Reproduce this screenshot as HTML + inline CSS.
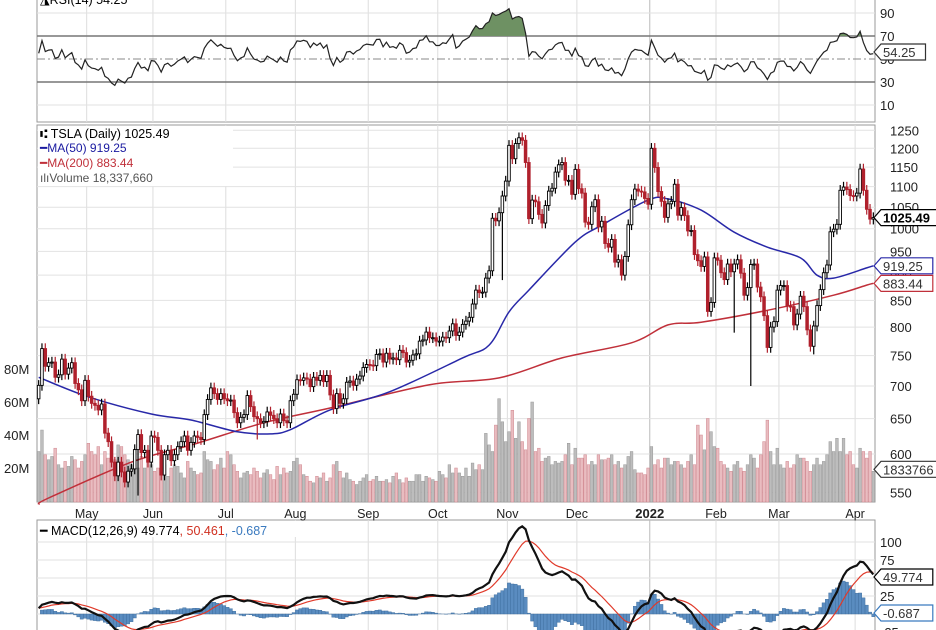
<!DOCTYPE html>
<html><head><meta charset="utf-8"><style>
html,body{margin:0;padding:0;background:#fff;}
svg{display:block;font-family:"Liberation Sans",sans-serif;}
</style></head><body>
<svg id="chart" width="936" height="630" viewBox="0 0 936 630" xmlns="http://www.w3.org/2000/svg">
<g id="grid"></g>
<g id="rsi"></g>
<g id="vol"></g>
<g id="ma"></g>
<g id="candles"></g>
<g id="macd"></g>
<g id="labels"></g>
<g font-size="12.5">
<rect x="38" y="126" width="195" height="60" fill="#fff"/>
<text x="40" y="138" fill="#000">⑆ TSLA (Daily) 1025.49</text>
<text x="40" y="152" fill="#1a1aa0" font-size="12">━MA(50) 919.25</text>
<text x="40" y="167" fill="#c0303a" font-size="12">━MA(200) 883.44</text>
<text x="40" y="182" fill="#555" font-size="12">ılıVolume 18,337,660</text>
</g>
<text x="40" y="4" font-size="12.5" fill="#000">◮RSI(14) 54.25</text>
<g font-size="12.5">
<rect x="38" y="521" width="320" height="16" fill="#fff"/>
<text x="40" y="535"><tspan fill="#000">━ MACD(12,26,9) 49.774</tspan><tspan fill="#d03020">, 50.461</tspan><tspan fill="#3a7abf">, -0.687</tspan></text>
</g>
</svg>
<script>
const closes=[701,762,732,738,739,714,718,744,719,729,738,704,694,677,709,
684,673,670,663,672,629,617,589,571,589,576,563,577,580,606,627,602,605,589,625,
623,605,572,599,605,591,599,610,617,625,605,616,625,623,620,656,679,697,688,679,688,680,
677,678,659,644,652,656,685,668,653,650,644,646,660,655,650,644,657,647,644,677,687,
710,709,713,711,699,714,709,717,707,717,686,665,688,673,680,706,708,701,711,716,730,735,
734,733,752,753,739,754,744,746,743,759,755,739,742,751,753,775,777,791,781,781,775,
775,782,781,793,806,785,791,805,811,818,843,870,865,866,894,909,1024,1018,1037,1077,1114,
1208,1172,1213,1229,1222,1162,1023,1067,1063,1033,1013,1054,1089,1096,1137,1156,1162,1116,1116,1081,1144,
1095,1084,1015,1010,1051,1068,1004,1017,967,959,976,927,932,900,939,1009,1068,1094,1089,1087,1071,1057,
1200,1149,1088,1064,1026,1058,1064,1106,1031,1049,1030,995,996,943,930,918,938,829,846,936,
931,905,891,923,907,923,932,904,860,875,922,923,876,857,821,764,800,810,870,
879,879,839,838,804,824,858,838,795,766,802,840,871,905,921,993,999,1010,1091,1099,1093,1078,1077,
1084,1145,1091,1045,1022,1025.49];
const volumes=[30,43,28,25,27,32,22,20,24,21,27,25,20,24,28,
35,30,28,33,22,30,26,36,25,34,33,28,25,22,24,20,27,20,25,22,
18,20,26,22,15,20,22,21,17,14,24,20,18,16,17,30,25,24,19,22,26,20,
30,28,22,18,14,17,18,16,20,18,14,17,19,16,13,21,16,20,17,18,24,
26,22,16,15,12,11,15,14,17,12,14,22,24,18,14,17,13,12,10,12,14,16,
12,13,15,12,12,13,11,15,17,13,11,14,12,12,16,16,12,15,14,13,12,
18,16,14,22,17,20,17,15,20,15,23,19,22,19,41,34,30,46,62,48,36,
42,55,38,48,36,31,50,60,30,32,24,26,27,22,24,23,24,28,35,22,32,
26,26,28,22,24,22,28,25,25,26,28,22,24,20,22,27,30,19,17,17,16,20,
33,22,25,20,26,26,22,24,24,22,20,24,28,22,46,40,31,50,42,33,
32,24,22,20,18,22,24,20,18,22,28,26,20,28,36,49,30,22,32,
22,20,24,20,22,28,26,26,24,18,22,26,22,24,28,36,30,38,30,38,28,30,22,
20,32,30,26,30,18];
const lowDays=[30,66,140,175,210,215,234];
const lowVals=[546,620,890,945,790,700,752];
const ma50Days=[0,15,34,46,60,70,76,88,106,128,136,142,148,162,170,184,190,200,210,220,230,235,240,250,252];
const ma50Vals=[714,683,657,648,631,628,634,663,691,746,768,828,870,970,1008,1067,1070,1043,992,959,936,900,894,915,919.25];
const ma200Days=[0,3,28,48,68,88,118,139,158,179,190,200,220,240,250,252];
const ma200Vals=[535,543,589,615,644,666,702,713,746,772,804,809,831,860,880,883.44];
const priceTicks=[550,600,650,700,750,800,850,900,950,1000,1050,1100,1150,1200,1250];
const rsiTicks=[10,30,50,70,90];
const volTicks=[20,40,60,80];
const macdTicks=[-25,0,25,50,75,100];
const monthNames=["May","Jun","Jul","Aug","Sep","Oct","Nov","Dec","2022","Feb","Mar","Apr"];
const monthStarts=[15,35,57,78,100,121,142,163,185,205,224,247];

const NS="http://www.w3.org/2000/svg";
const X0=37,X1=875,N=closes.length,DX=(X1-X0)/N;
const xAt=i=>X0+(i+0.5)*DX;
const yP=p=>386-441*Math.log(p/700);
const yV=v=>501-v*33/20;
const yR=v=>59-(v-50)*23/20;
const yM=v=>614-v*0.72;
function mk(parent,tag,attrs){const e=document.createElementNS(NS,tag);for(const k in attrs)e.setAttribute(k,attrs[k]);document.getElementById(parent).appendChild(e);return e;}

let e;
e=mk('grid','rect',{x:X0,y:-2,width:X1-X0,height:124,fill:'#fff',stroke:'#999'});


e=mk('grid','rect',{x:X0,y:125,width:X1-X0,height:377,fill:'#fff',stroke:'#999'});


e=mk('grid','rect',{x:X0,y:520,width:X1-X0,height:120,fill:'#fff',stroke:'#999'});


monthStarts.forEach((m,i)=>{
  const x=X0+m*DX;
  [[-2,122],[125,502],[520,630]].forEach(r=>{
    e=mk('grid','line',{x1:x,x2:x,y1:r[0],y2:r[1],stroke:monthNames[i]==="2022"?'#bbb':'#ddd'});
    
    
  });
  e=mk('labels','text',{x:x,y:518,'text-anchor':'middle','font-size':monthNames[i]==="2022"?13:12.5,'font-weight':monthNames[i]==="2022"?'bold':'normal',fill:'#222'});
  e.textContent=monthNames[i];
  
  
});
priceTicks.forEach(p=>{
  const y=yP(p);
  e=mk('grid','line',{x1:X0,x2:X1,y1:y,y2:y,stroke:'#e2e2e2'});
  
  
  e=mk('labels','text',{x:890,y:y+5,'font-size':13,fill:'#222'});
  e.textContent=p;
  
  
});
rsiTicks.forEach(v=>{
  const y=yR(v);
  const main=(v===30||v===70);
  e=mk('grid','line',{x1:X0,x2:X1,y1:y,y2:y,stroke:main?'#777':(v===50?'#888':'#e2e2e2'),'stroke-width':main?1.5:1,'stroke-dasharray':v===50?'8,3,2,3':'none'});
  
  
  e=mk('labels','text',{x:880,y:y+5,'font-size':13,fill:'#222'});
  e.textContent=v;
  
  
});
volTicks.forEach(v=>{
  e=mk('labels','text',{x:4,y:yV(v)+5,'font-size':13,fill:'#222'});
  e.textContent=v+'M';
  
  
});
macdTicks.forEach(v=>{
  const y=yM(v);
  e=mk('grid','line',{x1:X0,x2:X1,y1:y,y2:y,stroke:'#e2e2e2'});
  
  
  if(v===50||v===0) return;
  e=mk('labels','text',{x:880,y:y+5,'font-size':13,fill:'#222'});
  e.textContent=v;
  
  
});

volumes.forEach((v,i)=>{
  const up=i===0||closes[i]>=closes[i-1];
  const y=yV(v);
  e=mk('vol','rect',{x:xAt(i)-DX/2+0.3,y:y,width:DX-0.6,height:502-y,fill:up?'#bdbdbd':'#e9bcc0',stroke:up?'#999':'#d08890','stroke-width':0.5});
  
  
});

function smoothPath(pts){
  let d='M'+pts[0][0].toFixed(1)+','+pts[0][1].toFixed(1);
  for(let i=0;i<pts.length-1;i++){
    const p0=pts[Math.max(0,i-1)],p1=pts[i],p2=pts[i+1],p3=pts[Math.min(pts.length-1,i+2)];
    const c1=[p1[0]+(p2[0]-p0[0])/6,p1[1]+(p2[1]-p0[1])/6];
    const c2=[p2[0]-(p3[0]-p1[0])/6,p2[1]-(p3[1]-p1[1])/6];
    d+='C'+c1[0].toFixed(1)+','+c1[1].toFixed(1)+' '+c2[0].toFixed(1)+','+c2[1].toFixed(1)+' '+p2[0].toFixed(1)+','+p2[1].toFixed(1);
  }
  return d;
}
function maPath(days,vals){return smoothPath(days.map((d,i)=>[xAt(d),yP(vals[i])]));}
e=mk('ma','path',{d:maPath(ma200Days,ma200Vals),fill:'none',stroke:'#c0303a','stroke-width':1.5});


e=mk('ma','path',{d:maPath(ma50Days,ma50Vals),fill:'none',stroke:'#2828a8','stroke-width':1.5});



closes.forEach((c,i)=>{
  const o=i?closes[i-1]:c*0.97;
  const up=c>=o;
  let hi=Math.max(o,c)*1.012, lo=Math.min(o,c)*0.988;
  const li=lowDays.indexOf(i); if(li>=0) lo=Math.min(lo,lowVals[li]);
  const x=xAt(i), col=up?'#000':'#b0202c';
  e=mk('candles','line',{x1:x,x2:x,y1:yP(hi),y2:yP(lo),stroke:col,'stroke-width':1.2});
  
  
  const yt=yP(Math.max(o,c)), yb=yP(Math.min(o,c));
  e=mk('candles','rect',{x:x-1.3,y:yt,width:2.6,height:Math.max(1,yb-yt),fill:up?'#fff':col,stroke:col,'stroke-width':0.9});
  
  
});

const rsi=[];let ag=5,al=5;
closes.forEach((c,i)=>{
  if(i===0){rsi.push(55);return;}
  const d=c-closes[i-1];
  ag=(ag*13+Math.max(d,0))/14; al=(al*13+Math.max(-d,0))/14;
  rsi.push(100-100/(1+ag/(al||1e-6)));
});
const rsiD=rsi.map((v,i)=>(i?'L':'M')+xAt(i).toFixed(1)+','+yR(v).toFixed(1)).join('');
const cp=mk('rsi','clipPath',{id:'ob'});
const cr=document.createElementNS(NS,'rect');cr.setAttribute('x',X0);cr.setAttribute('y',-5);cr.setAttribute('width',X1-X0);cr.setAttribute('height',yR(70)+5);cp.appendChild(cr);
e=mk('rsi','path',{d:rsiD+'L'+xAt(N-1)+','+yR(70)+'L'+xAt(0)+','+yR(70)+'Z',fill:'#6e9163','clip-path':'url(#ob)'});


e=mk('rsi','path',{d:rsiD,fill:'none',stroke:'#222','stroke-width':1.2});



const ema=(arr,n)=>{const k=2/(n+1);const out=[];arr.forEach((v,i)=>out.push(i?out[i-1]+k*(v-out[i-1]):v));return out;};
const e12=ema(closes,12),e26=ema(closes,26);
const macdL=e12.map((v,i)=>v-e26[i]+8);
const sig=ema(macdL,9);
macdL.forEach((v,i)=>{
  const h=(v-sig[i])*1.4;
  const y0=yM(0),y1=yM(h);
  e=mk('macd','rect',{x:xAt(i)-DX/2,y:Math.min(y0,y1),width:DX,height:Math.abs(y1-y0),fill:'#5a8cc0',stroke:'#3a6a9a','stroke-width':0.4});
  
  
});
e=mk('macd','path',{d:sig.map((v,i)=>(i?'L':'M')+xAt(i).toFixed(1)+','+yM(v).toFixed(1)).join(''),fill:'none',stroke:'#e03a2a','stroke-width':1.2});


e=mk('macd','path',{d:macdL.map((v,i)=>(i?'L':'M')+xAt(i).toFixed(1)+','+yM(v).toFixed(1)).join(''),fill:'none',stroke:'#111','stroke-width':2.2});



function tag(y,txt,color,bold,name){
  const w=txt.length*7.3+8;
  e=mk('labels','path',{d:`M874,${y}L881,${y-8}H${881+w}V${y+8}H881Z`,fill:'#fff',stroke:color,'stroke-width':1.2});
  
  
  e=mk('labels','text',{x:883,y:y+5,'font-size':13,'font-weight':bold?'bold':'normal',fill:bold?'#000':'#333'});
  e.textContent=txt;
  
  
}
tag(52,'54.25','#333',false,'rsi-value-tag');
tag(yP(closes[N-1]),'1025.49','#000',true,'price-value-tag');
tag(yP(ma50Vals[ma50Vals.length-1]),'919.25','#2828a8',false,'ma50-value-tag');
tag(yP(ma200Vals[ma200Vals.length-1]),'883.44','#c0303a',false,'ma200-value-tag');
tag(yV(volumes[N-1])-2,'1833766','#333',false,'volume-value-tag');
tag(577,'49.774','#000',false,'macd-value-tag');
tag(613,'-0.687','#3a7abf',false,'histogram-value-tag');
</script>
</body></html>
